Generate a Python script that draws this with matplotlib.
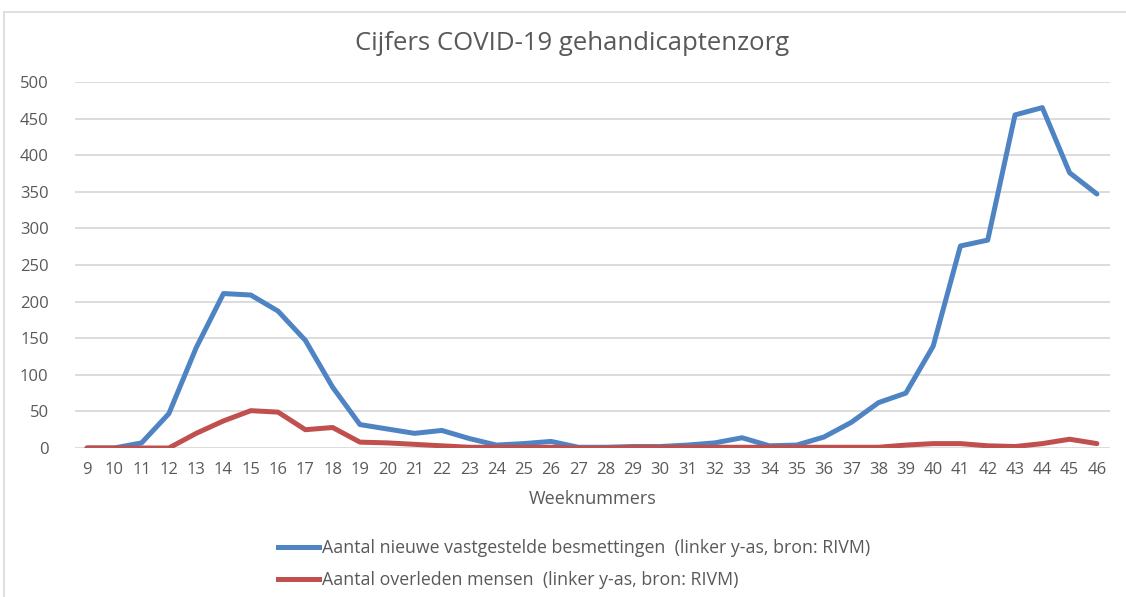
import matplotlib
matplotlib.use("Agg")
import matplotlib.pyplot as plt
from matplotlib.lines import Line2D

weeks = list(range(9, 47))
besmettingen = [0, 0, 7, 47, 137, 211, 209, 187, 147, 83, 32, 26, 20, 24, 13, 4, 6, 9, 1, 1, 2, 2, 4, 7, 14, 3, 4, 15, 35, 62, 75, 139, 276, 284, 455, 465, 376, 347]
overleden = [0, 0, 0, 0, 20, 37, 51, 49, 25, 28, 8, 7, 5, 3, 1, 1, 1, 1, 0, 0, 1, 1, 1, 1, 1, 1, 1, 1, 1, 1, 4, 6, 6, 3, 2, 6, 12, 6]
yticks = [0, 50, 100, 150, 200, 250, 300, 350, 400, 450, 500]

title = "Cijfers COVID-19 gehandicaptenzorg"
xlabel = "Weeknummers"
label1 = "Aantal nieuwe vastgestelde besmettingen  (linker y-as, bron: RIVM)"
label2 = "Aantal overleden mensen  (linker y-as, bron: RIVM)"

plt.rcParams['font.family'] = ['Open Sans', 'DejaVu Sans']
txt = '#595959'
blue = '#4F84C4'
red = '#C0504D'

fig = plt.figure(figsize=(11.26, 5.97), dpi=100)
ax = fig.add_axes([75/1126, 1-448/597, (1110-75)/1126, (448-82)/597])
ax.plot(weeks, besmettingen, color=blue, lw=3.6, solid_joinstyle='round', solid_capstyle='round', label=label1)
ax.plot(weeks, overleden, color=red, lw=3.6, solid_joinstyle='round', solid_capstyle='round', label=label2)
ax.set_ylim(0, 500)
ax.set_xlim(8.56, 46.48)
ax.set_yticks(yticks)
ax.set_xticks(weeks)
ax.set_xticklabels([str(w) for w in weeks])
ax.grid(axis='y', color='#D9D9D9', lw=1.3)
ax.set_axisbelow(True)
for s in ax.spines.values():
    s.set_visible(False)
ax.tick_params(length=0, colors=txt, labelsize=12)
ax.tick_params(axis='y', pad=19)
ax.tick_params(axis='x', pad=10)
ax.set_xlabel(xlabel, color=txt, fontsize=13, labelpad=9)

fig.text(572/1126, 1-44/597, title, ha='center', va='center', color=txt, fontsize=18.5)

# legend
handles = [Line2D([0], [0], color=blue, lw=3.6), Line2D([0], [0], color=red, lw=3.6)]
leg = fig.legend(handles, [label1, label2], loc='center left', bbox_to_anchor=(262/1126, 1-564/597),
                 frameon=False, fontsize=12.8, handlelength=2.3, handletextpad=0.15, labelspacing=0.8)
for t in leg.get_texts():
    t.set_color(txt)

# chart frame
fig.add_artist(Line2D([4/1126, 4/1126], [0, 1-12/597], color='#D9D9D9', lw=1.2, transform=fig.transFigure))
fig.add_artist(Line2D([4/1126, 1], [1-12/597, 1-12/597], color='#D9D9D9', lw=1.2, transform=fig.transFigure))

fig.savefig('out.png', dpi=100, facecolor='white')
